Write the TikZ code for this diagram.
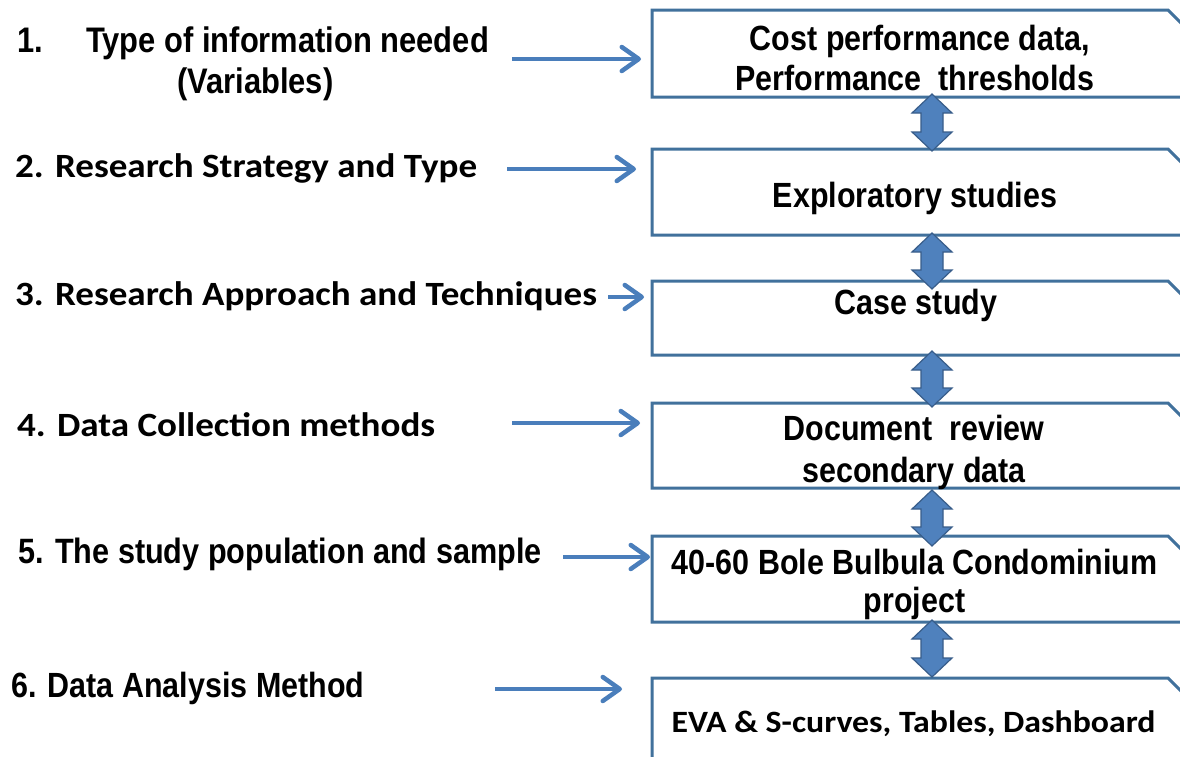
\documentclass[tikz,border=0pt]{standalone}
\usepackage{fontspec}
\setmainfont{Liberation Sans}
\newfontfamily\narfont[FakeStretch=0.87]{Liberation Sans}
\newfontfamily\calfont[FakeStretch=1.09]{Carlito}
\usetikzlibrary{arrows.meta,calc}
\definecolor{boxblue}{HTML}{41719C}
\definecolor{arrblue}{HTML}{4A7EBB}
\definecolor{dblfill}{HTML}{4F81BD}
\definecolor{dbldraw}{HTML}{385D8A}
\newcommand\stageoutline[1]{\draw[boxline] (#1.south west) -- (#1.north west) -- ([xshift=-16pt]#1.north east) -- ([yshift=-16pt]#1.north east) -- (#1.south east) -- cycle;}
\newcommand\dblarrow[2]{\filldraw[dblstyle] (#1) -- ++(20,19) -- ++(-9,0) -- ($(#2)+(11,-19)$) -- ++(9,0) -- (#2) -- ++(-20,-19) -- ++(9,0) -- ($(#1)+(-11,19)$) -- ++(-9,0) -- cycle;}
\begin{document}
\begin{tikzpicture}[x=1pt,y=-1pt,
  boxarea/.style={minimum width=532pt, inner sep=0pt, outer sep=0pt},
  boxline/.style={draw=boxblue, line width=3pt, fill=white, line join=miter},
  dblstyle/.style={fill=dblfill, draw=dbldraw, line width=1.2pt, line join=miter},
  larrow/.style={draw=arrblue, line width=4.5pt, -{Straight Barb[length=17pt,width=24pt,round]}},
  lbl/.style={anchor=base west, inner sep=0pt, font=\bfseries},
  btxt/.style={anchor=base, inner sep=0pt, font=\narfont\bfseries\fontsize{35}{40}\selectfont},
]
\useasboundingbox (0,0) rectangle (1180,756);
\clip (0,0) rectangle (1180,756);
\fill[white] (0,0) rectangle (1180,756);

% boxes
\node[boxarea, minimum height=87pt] (b1) at (918,53.5) {};
\node[boxarea, minimum height=86pt] (b2) at (918,192) {};
\node[boxarea, minimum height=74pt] (b3) at (918,318) {};
\node[boxarea, minimum height=85pt] (b4) at (918,445.5) {};
\node[boxarea, minimum height=86pt] (b5) at (918,579) {};
\node[boxarea, minimum height=92pt] (b6) at (918,724) {};
\stageoutline{b1}
\stageoutline{b2}
\stageoutline{b3}
\stageoutline{b4}
\stageoutline{b5}
\stageoutline{b6}

% double arrows
\coordinate (ax) at (932,0);
\coordinate (t1) at ($(b1.south -| ax)+(0,-3)$);
\coordinate (u1) at ($(b2.north -| ax)+(0,2)$);
\coordinate (t2) at ($(b2.south -| ax)+(0,-2)$);
\coordinate (u2) at ($(b3.north -| ax)+(0,8)$);
\coordinate (t3) at ($(b3.south -| ax)+(0,-4)$);
\coordinate (u3) at ($(b4.north -| ax)+(0,4)$);
\coordinate (t4) at ($(b4.south -| ax)+(0,2)$);
\coordinate (u4) at ($(b5.north -| ax)+(0,10)$);
\coordinate (t5) at ($(b5.south -| ax)+(0,-2)$);
\coordinate (u5) at ($(b6.north -| ax)+(0,-1)$);
\dblarrow{t1}{u1}
\dblarrow{t2}{u2}
\dblarrow{t3}{u3}
\dblarrow{t4}{u4}
\dblarrow{t5}{u5}

% box texts
\node[btxt] (x1a) at (920,50) {Cost performance data,};
\node[btxt] (x1b) at (915,90) {Performance\ \ thresholds};
\node[btxt] (x2) at (915,207) {Exploratory studies};
\node[btxt] (x3) at (916,314) {Case study};
\node[btxt] (x4a) at (914,440) {Document\ \ review};
\node[btxt] (x4b) at (914,482) {secondary data};
\node[btxt] (x5a) at (914.5,574) {40-60 Bole Bulbula Condominium};
\node[btxt] (x5b) at (914.5,612) {project};
\node[anchor=base, inner sep=0pt, font=\calfont\bfseries\fontsize{31}{36}\selectfont] (x6) at (913.5,732) {EVA \& S-curves, Tables, Dashboard};

% left labels
\node[lbl, font=\narfont\bfseries\fontsize{35.5}{40}\selectfont] (l1n) at (17,52) {1.};
\node[lbl, font=\narfont\bfseries\fontsize{35.5}{40}\selectfont] (l1a) at (86,52) {Type of information needed};
\node[lbl, font=\narfont\bfseries\fontsize{35.5}{40}\selectfont] (l1b) at (177,93) {(Variables)};
\node[lbl, font=\calfont\bfseries\fontsize{34}{40}\selectfont] (l2) at (15,177) {2. Research Strategy and Type};
\node[lbl, font=\calfont\bfseries\fontsize{34}{40}\selectfont] (l3) at (15,305) {3. Research Approach and Techniques};
\node[lbl, font=\calfont\bfseries\fontsize{34}{40}\selectfont] (l4) at (17,436) {4. Data Collection methods};
\node[lbl, font=\narfont\bfseries\fontsize{35.2}{40}\selectfont] (l5) at (18,563) {5. The study population and sample};
\node[lbl, font=\narfont\bfseries\fontsize{35}{40}\selectfont] (l6) at (11,697) {6. Data Analysis Method};

% left arrows
\coordinate (s1) at (512,59);
\coordinate (s2) at (507,169);
\coordinate (s3) at (608,297);
\coordinate (s4) at (512,423);
\coordinate (s5) at (563,557);
\coordinate (s6) at (495,689);
\draw[larrow, shorten >=11pt] (s1) -- (b1.west |- s1);
\draw[larrow, shorten >=16pt] (s2) -- (b2.west |- s2);
\draw[larrow, shorten >=8pt] (s3) -- (b3.west |- s3);
\draw[larrow, shorten >=12pt] (s4) -- (b4.west |- s4);
\draw[larrow, shorten >=2pt] (s5) -- (b5.west |- s5);
\draw[larrow, shorten >=30pt] (s6) -- (b6.west |- s6);
\end{tikzpicture}
\end{document}
